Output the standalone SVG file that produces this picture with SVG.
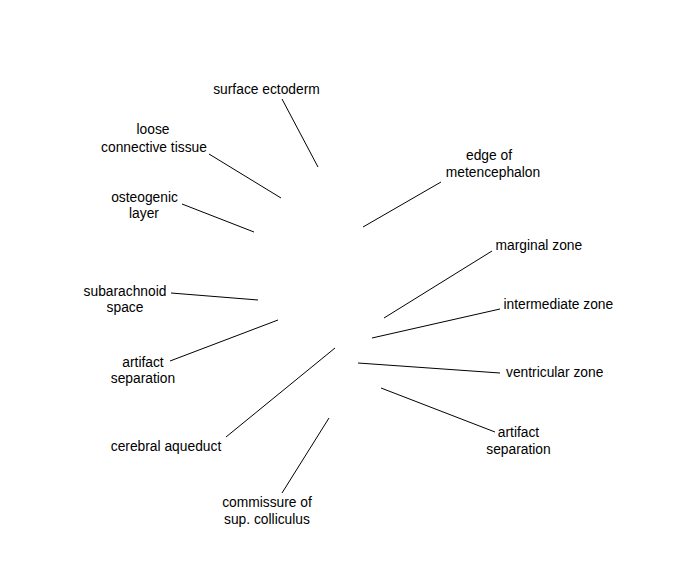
<svg xmlns="http://www.w3.org/2000/svg" width="675" height="580" viewBox="0 0 675 580">
<style>
.lbl{font-family:"Liberation Sans",Arial,sans-serif;font-size:13.8px;fill:#000;text-anchor:middle}
.st{text-anchor:start}
.ln{stroke:#000;stroke-width:1;fill:none}
</style>
<rect width="675" height="580" fill="#fff"/>
<g id="connectors">
<line class="ln" x1="282" y1="99" x2="318" y2="167"/>
<line class="ln" x1="209" y1="154" x2="281" y2="198"/>
<line class="ln" x1="182" y1="204" x2="254" y2="232"/>
<line class="ln" x1="441" y1="182" x2="363" y2="227"/>
<line class="ln" x1="492" y1="251" x2="384" y2="318"/>
<line class="ln" x1="500" y1="309" x2="372" y2="338"/>
<line class="ln" x1="171" y1="293" x2="258" y2="300"/>
<line class="ln" x1="170" y1="361" x2="278" y2="320"/>
<line class="ln" x1="226" y1="437" x2="335" y2="348"/>
<line class="ln" x1="282" y1="493" x2="329" y2="418"/>
<line class="ln" x1="358" y1="363" x2="500" y2="373"/>
<line class="ln" x1="381" y1="388" x2="495" y2="432"/>
</g>
<g id="surface-ectoderm"><text class="lbl" x="266.5" y="94">surface ectoderm</text></g>
<g id="loose-connective-tissue"><text class="lbl" x="153" y="134">loose</text><text class="lbl" x="154" y="151.5">connective tissue</text></g>
<g id="osteogenic-layer"><text class="lbl" x="144.5" y="202">osteogenic</text><text class="lbl" x="144" y="217.5">layer</text></g>
<g id="edge-of-metencephalon"><text class="lbl" x="489" y="160">edge of</text><text class="lbl" x="493" y="177">metencephalon</text></g>
<g id="marginal-zone"><text class="lbl st" x="495.5" y="250">marginal zone</text></g>
<g id="intermediate-zone"><text class="lbl st" x="503.5" y="309">intermediate zone</text></g>
<g id="subarachnoid-space"><text class="lbl" x="125" y="296">subarachnoid</text><text class="lbl" x="125" y="312">space</text></g>
<g id="artifact-separation-left"><text class="lbl" x="143" y="366.5">artifact</text><text class="lbl" x="143" y="383">separation</text></g>
<g id="cerebral-aqueduct"><text class="lbl" x="166" y="451">cerebral aqueduct</text></g>
<g id="commissure"><text class="lbl" x="267" y="507">commissure of</text><text class="lbl" x="267" y="523.5">sup. colliculus</text></g>
<g id="ventricular-zone"><text class="lbl st" x="506" y="376.5">ventricular zone</text></g>
<g id="artifact-separation-right"><text class="lbl" x="518.5" y="436.5">artifact</text><text class="lbl" x="518.5" y="453.5">separation</text></g>
</svg>
